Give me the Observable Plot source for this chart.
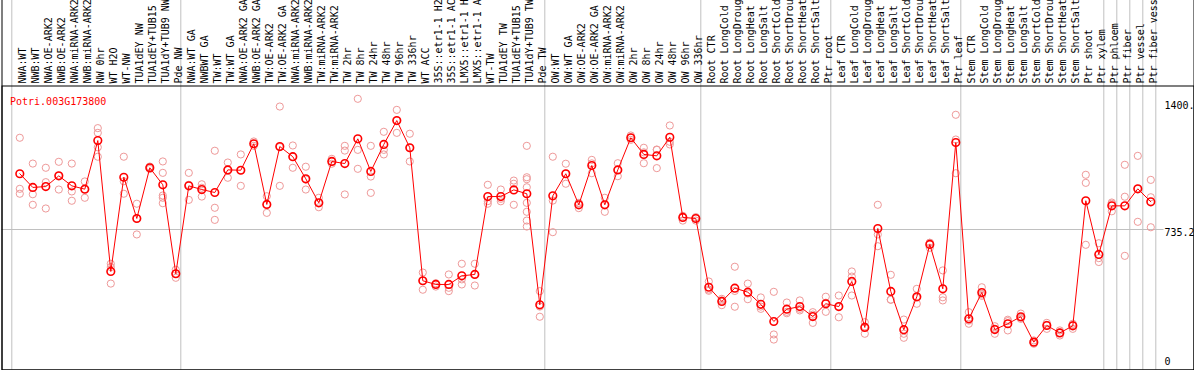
<!DOCTYPE html>
<html><head><meta charset="utf-8">
<script src="https://cdn.jsdelivr.net/npm/d3@7"></script>
<script src="https://cdn.jsdelivr.net/npm/@observablehq/plot@0.6"></script>
<style>
html,body{margin:0;padding:0;background:#fff;}
#chart svg{display:block;}
</style></head><body><div id="chart"></div>
<script>
const geneName = "Potri.003G173800";

const groupNW = ["NWA:WT","NWB:WT","NWA:OE-ARK2","NWB:OE-ARK2","NWA:miRNA-ARK2","NWB:miRNA-ARK2","NW 0hr","WT H2O","WT-NW","TUA1dEY NW","TUA1dEY+TUB15 NW","TUA1dY+TUB9 NW","Pde NW"];
const groupTW = ["NWA:WT GA","NWBWT GA","TW:WT","TW:WT GA","NWA:OE-ARK2 GA","NWB:OE-ARK2 GA","TW:OE-ARK2","TW:OE-ARK2 GA","NWA:miRNA-ARK2 GA","NWB:miRNA-ARK2 GA","TW:miRNA-ARK2","TW:miRNA-ARK2 GA","TW 2hr","TW 8hr","TW 24hr","TW 48hr","TW 96hr","TW 336hr","WT ACC","35S::etr1-1 H2O","35S::etr1-1 ACC","LMX5::etr1-1 H2O","LMX5::etr1-1 ACC","WT-TW","TUA1dEY TW","TUA1dEY+TUB15 TW","TUA1dY+TUB9 TW","Pde TW"];
const groupOW = ["OW:WT","OW:WT GA","OW:OE-ARK2","OW:OE-ARK2 GA","OW:miRNA-ARK2","OW:miRNA-ARK2 GA","OW 2hr","OW 8hr","OW 24hr","OW 48hr","OW 96hr","OW 336hr"];
const groupRoot = ["Root CTR","Root LongCold","Root LongDrought","Root LongHeat","Root LongSalt","Root ShortCold","Root ShortDrought","Root ShortHeat","Root ShortSalt","Ptr root"];
const groupLeaf = ["Leaf CTR","Leaf LongCold","Leaf LongDrought","Leaf LongHeat","Leaf LongSalt","Leaf ShortCold","Leaf ShortDrought","Leaf ShortHeat","Leaf ShortSalt","Ptr leaf"];
const groupStem = ["Stem CTR","Stem LongCold","Stem LongDrought","Stem LongHeat","Stem LongSalt","Stem ShortCold","Stem ShortDrought","Stem ShortHeat","Stem ShortSalt","Ptr shoot","Ptr xylem"];
const groupPhloem = ["Ptr phloem"];
const groupFiber = ["Ptr fiber"];
const groupVessel = ["Ptr vessel"];
const groupFiberVessel = ["Ptr fiber vessel"];

const means = [1053,975,980,1041,984,965,1242,496,1033,798,1087,990,483,
  984,963,946,1075,1073,1224,878,1208,1150,1024,887,1123,1111,1252,1066,1220,1356,1201,443,422,422,471,479,923,923,961,939,306,
  927,1053,876,1100,876,1075,1258,1163,1155,1261,804,798,
  406,325,401,378,309,211,281,296,239,312,
  296,439,177,741,382,164,352,650,397,1231,
  226,376,165,198,238,93,188,146,186,899,593,
  870,870,967,893];

const replicates = [
  [1258,967,939],[1111,936,876],[1087,1005,855],[1121,1041,963],[1111,952,899],[1009,965,916],[1313,1286,1204,1150],[540,521,427],[1150,1010,939],[882,798,707],[1094,1087,1080],[1123,1058,929,916,885],[506,483,460],
  [1058,990,904],[993,973,923],[1184,859,790],[1117,1075,1030],[1163,1073,984],[1237,1224,1212],[925,878,830],[1436,1205,984],[1214,1150,1087],[1093,1020,963],[916,887,862],[1138,1123,1110],[1212,1185,935],[1480,1189,1081],[1212,1037,944],[1292,1189,1163],[1417,1356,1286],[1281,1201,1123],[490,443,392],[429,422,410],[479,403,384],[540,451,422],[540,480,416],[990,897,882],[963,910,896],[1014,996,876],[1212,1033,1022,976,887,836,786,752],[384,296,238],
  [1150,900,720],[1110,1053,996],[887,885,857],[1132,1112,1056],[916,876,836],[1113,1075,1039],[1271,1258,1246],[1201,1175,1113],[1191,1189,1085],[1328,1235,1220],[813,804,786],[802,806,786],
  [439,393,386],[340,331,304],[523,385,295],[427,370,338],[348,296,283],[380,137,108],[319,266,258],[331,283,274],[264,250,203],[352,318,266],
  [359,294,235],[496,467,359],[207,183,141],[876,707,640],[477,335,335],[222,141,118],[397,347,312],[659,660,631],[502,349,331],[1389,1248,1056],
  [264,216,198],[406,365,357],[184,170,141],[221,213,160],[256,232,226],[103,93,84],[203,192,169],[160,147,131],[198,191,169],[1047,1001,648],[657,572,550],
  [889,882,839],[1104,922,585],[1155,967,779],[1018,919,748]
];

const yTicks = [0, 735.2, 1459];
const yTickLabels = ["0", "735.2", "1400."];

const groups = [groupNW, groupTW, groupOW, groupRoot, groupLeaf, groupStem, groupPhloem, groupFiber, groupVessel, groupFiberVessel];
const labels = groups.flat();
const separators = [-1];
{ let acc = -1; for (const g of groups) { acc += g.length; separators.push(acc); } }
const repPoints = replicates.flatMap((vals, i) => vals.map(v => ({i, v})));
const meanPoints = means.map((v, i) => ({i, v}));

const font = "DejaVu Sans Mono";
const grid = "#c0c0c0";

const chart = Plot.plot({
  width: 1194,
  height: 370,
  marginTop: 85.5,
  marginBottom: 0.5,
  marginLeft: 1.5,
  marginRight: 0.5,
  style: {fontFamily: font, fontSize: "10px", background: "#fff"},
  x: {type: "linear", domain: [0, labels.length - 1], range: [19.3, 1150.3], axis: null},
  y: {type: "linear", domain: [yTicks[0], yTicks[1]], range: [358, 229], axis: null},
  marks: [
    Plot.ruleX(separators, {x: d => d, dx: 5, stroke: grid, strokeWidth: 1, insetTop: -86}),
    Plot.ruleY([yTicks[1]], {y: d => d, stroke: grid, strokeWidth: 1, insetRight: 30}),
    Plot.frame({stroke: "black", insetTop: -87}),
    Plot.frame({stroke: "black"}),
    Plot.text(labels, {x: (d, i) => i, text: d => d, frameAnchor: "top", rotate: -90, textAnchor: "start", dy: -2.5, dx: -1, fill: "black", fontFamily: font, fontSize: 10}),
    Plot.dot(repPoints, {x: "i", y: "v", r: 3.6, stroke: "#ee9999", strokeWidth: 1, fill: "none"}),
    Plot.line(meanPoints, {x: "i", y: "v", stroke: "#ff0000", strokeWidth: 1}),
    Plot.dot(meanPoints, {x: "i", y: "v", r: 3.8, stroke: "#ff0000", strokeWidth: 1.6, fill: "none"}),
    Plot.text([geneName], {frameAnchor: "top-left", text: d => d, textAnchor: "start", dx: 8, dy: 11.5, fill: "#ff0000", fontFamily: font, fontSize: 10}),
    Plot.text(yTicks, {y: d => d, text: (d, i) => yTickLabels[i], frameAnchor: "right", textAnchor: "start", lineAnchor: "top", dx: -29.5, dy: -1, fill: "black", fontFamily: font, fontSize: 10})
  ]
});
document.getElementById("chart").appendChild(chart);
</script>
</body></html>
